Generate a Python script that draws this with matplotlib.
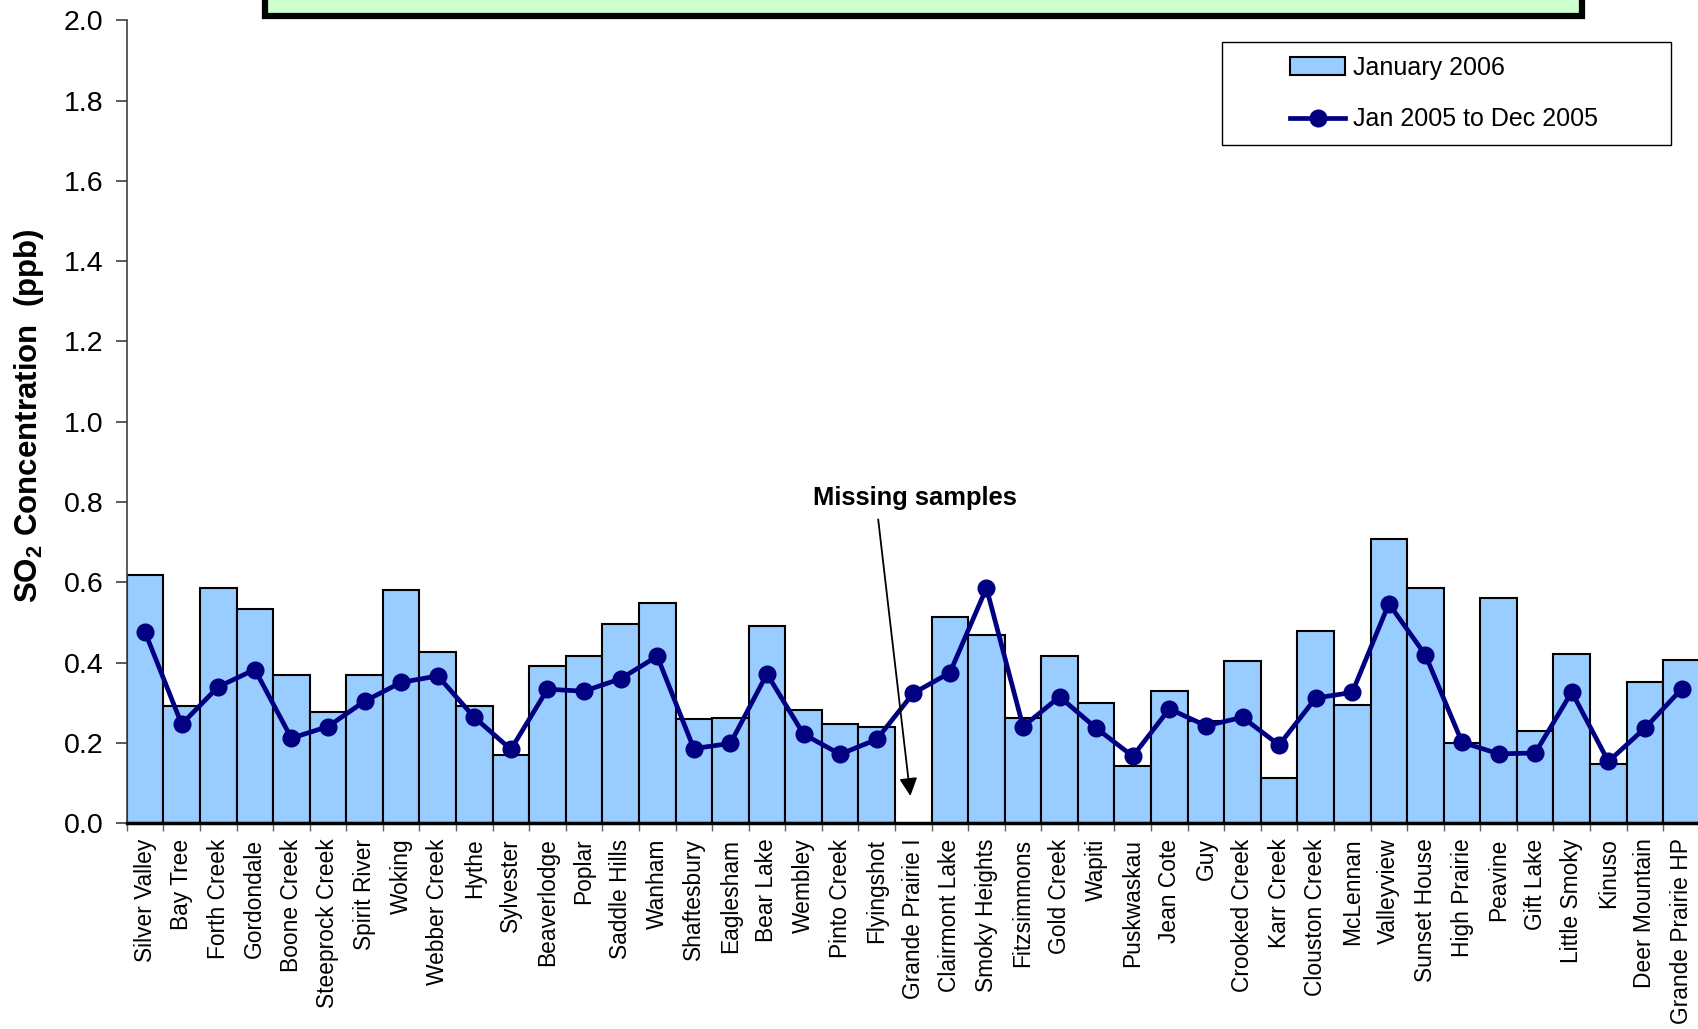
import matplotlib
matplotlib.use("Agg")
import matplotlib.pyplot as plt
import matplotlib.patches as mpatches
import numpy as np

plt.rcParams['font.family'] = ['Liberation Sans', 'DejaVu Sans']
plt.rcParams['mathtext.fontset'] = 'custom'
plt.rcParams['mathtext.rm'] = 'Liberation Sans'
plt.rcParams['mathtext.bf'] = 'Liberation Sans:bold'

stations = [
    "Silver Valley", "Bay Tree", "Forth Creek", "Gordondale", "Boone Creek",
    "Steeprock Creek", "Spirit River", "Woking", "Webber Creek", "Hythe",
    "Sylvester", "Beaverlodge", "Poplar", "Saddle Hills", "Wanham",
    "Shaftesbury", "Eaglesham", "Bear Lake", "Wembley", "Pinto Creek",
    "Flyingshot", "Grande Prairie I", "Clairmont Lake", "Smoky Heights",
    "Fitzsimmons", "Gold Creek", "Wapiti", "Puskwaskau", "Jean Cote", "Guy",
    "Crooked Creek", "Karr Creek", "Clouston Creek", "McLennan", "Valleyview",
    "Sunset House", "High Prairie", "Peavine", "Gift Lake", "Little Smoky",
    "Kinuso", "Deer Mountain", "Grande Prairie HP",
]

# January 2006 monthly means (ppb); Grande Prairie I has no samples
jan_2006 = [
    0.619, 0.293, 0.585, 0.533, 0.369, 0.276, 0.369, 0.580, 0.427, 0.293,
    0.171, 0.393, 0.416, 0.497, 0.549, 0.259, 0.263, 0.492, 0.282, 0.247,
    0.241, np.nan, 0.513, 0.470, 0.263, 0.416, 0.299, 0.143, 0.330, 0.255,
    0.405, 0.114, 0.480, 0.295, 0.708, 0.586, 0.200, 0.562, 0.229, 0.422,
    0.147, 0.352, 0.407,
]

# Jan 2005 to Dec 2005 averages (ppb)
avg_2005 = [
    0.476, 0.247, 0.340, 0.383, 0.212, 0.241, 0.304, 0.351, 0.367, 0.264,
    0.184, 0.334, 0.329, 0.360, 0.416, 0.186, 0.199, 0.372, 0.222, 0.172,
    0.209, 0.324, 0.375, 0.586, 0.241, 0.315, 0.237, 0.167, 0.285, 0.243,
    0.264, 0.195, 0.312, 0.326, 0.547, 0.419, 0.202, 0.173, 0.175, 0.327,
    0.154, 0.237, 0.334,
]

W, H = 1699, 1029
fig = plt.figure(figsize=(W / 100, H / 100), dpi=100)
ax = fig.add_axes([126.8 / W, (H - 823.3) / H, 1573 / W, 803 / H])

x = np.arange(len(stations))
bars = ax.bar(x, jan_2006, width=1.0, color='#99CCFF', edgecolor='black',
              linewidth=1.5, label='January 2006', zorder=2)
line, = ax.plot(x, avg_2005, color='#000080', lw=3.4, marker='o', ms=12,
                label='Jan 2005 to Dec 2005', zorder=3)

ax.set_xlim(-0.5, len(stations) - 0.5)
ax.set_ylim(0, 2.0)
yt = np.arange(0, 2.01, 0.2)
ax.set_yticks(yt)
ax.set_yticklabels([f"{v:.1f}" for v in yt], fontsize=20.5)
ax.tick_params(axis='y', length=8, width=1.2, color='#404040', pad=9)

ax.set_xticks(x)
ax.set_xticklabels(stations, rotation=90, fontsize=16.4)
ax.set_xticks(np.arange(-0.5, len(stations), 1), minor=True)
ax.tick_params(axis='x', which='major', length=0, pad=11)
ax.tick_params(axis='x', which='minor', length=6, width=1.0, color='#606060')

for side in ('top', 'right'):
    ax.spines[side].set_visible(False)
ax.spines['left'].set_color('#404040')
ax.spines['left'].set_linewidth(1.2)
ax.spines['bottom'].set_color('black')
ax.spines['bottom'].set_linewidth(2.5)
ax.spines['bottom'].set_zorder(4)

fig.text(29 / W, 1 - 416 / H, r'SO$_\mathbf{2}$ Concentration  (ppb)',
         rotation=90, ha='center', va='center', fontsize=22.5,
         fontweight='bold')

# missing-sample note
ax.text(21.05, 0.81, 'Missing samples', ha='center', va='center',
        fontsize=18.4, fontweight='bold')
ax.annotate('', xy=(20.92, 0.068), xytext=(20.04, 0.757),
            arrowprops=dict(arrowstyle='-|>', color='black', lw=1.3,
                            mutation_scale=27, shrinkA=0, shrinkB=0))

# title box cut off at the top
fig.patches.append(mpatches.Rectangle(
    (265 / W, (H - 16) / H), (1582 - 265) / W, 0.1, transform=fig.transFigure,
    facecolor='#CCFFCC', edgecolor='black', linewidth=4.5, zorder=1))

# legend with its own frame
fig.patches.append(mpatches.Rectangle(
    (1222 / W, (H - 145) / H), 449 / W, 103 / H, transform=fig.transFigure,
    facecolor='white', edgecolor='black', linewidth=1.0, zorder=1))
fig.legend(handles=[bars, line], loc='center left',
           bbox_to_anchor=(1278 / W, 1 - 93.5 / H), frameon=False,
           fontsize=18, borderpad=0, handlelength=2.2, handletextpad=0.3,
           labelspacing=1.1)

fig.savefig('out.png', dpi=100)
